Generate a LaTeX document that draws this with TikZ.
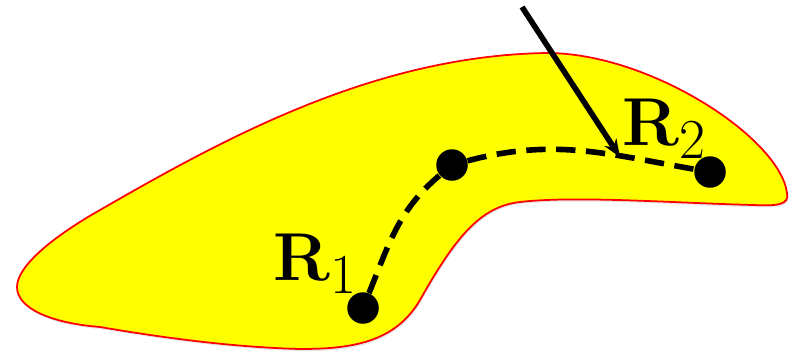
\documentclass[tikz,border=0pt]{standalone}
\usetikzlibrary{arrows.meta,shadows}
\definecolor{blobyellow}{RGB}{255,255,0}
\definecolor{blobred}{RGB}{255,0,0}
\begin{document}
\begin{tikzpicture}[
    blackdot/.style={circle, fill=black, minimum size=0.63cm, inner sep=0pt},
    biglabel/.style={font=\Huge, scale=1.55, inner sep=0pt, anchor=base west}]
    \useasboundingbox (0,0) rectangle (15.84,7.06);

    % --- yellow region ---
    \draw[blobred, line width=1pt, fill=blobyellow,
          drop shadow={opacity=0.2, shadow xshift=0.6pt, shadow yshift=-1.2pt}]
      (0.34,1.32) .. controls (0.34,1.75) and (1.10,2.35) .. (2.00,2.86)
      .. controls (4.50,4.30) and (7.50,5.95) .. (10.94,6.00)
      .. controls (13.00,6.00) and (15.60,4.30) .. (15.74,3.20)
      .. controls (15.80,2.95) and (15.50,2.94) .. (15.06,2.96)
      .. controls (13.50,3.00) and (11.50,3.15) .. (10.40,3.02)
      .. controls (9.60,2.93) and (9.10,2.30) .. (8.40,1.06)
      .. controls (7.90,0.20) and (7.00,0.08) .. (6.00,0.08)
      .. controls (4.50,0.12) and (3.00,0.35) .. (2.00,0.52)
      .. controls (1.00,0.60) and (0.34,0.90) .. (0.34,1.32) -- cycle;

    % --- points ---
    \node[blackdot] (r1) at (7.26,0.90) {};
    \node[blackdot] (mid) at (9.04,3.76) {};
    \node[blackdot] (r2) at (14.20,3.62) {};

    % --- dashed path ---
    \draw[line width=3.2pt, dash pattern=on 11pt off 6pt]
      (r1) to[out=68, in=-140] (mid) to[out=15, in=170] (r2);

    % --- arrow ---
    \coordinate (tail) at (10.44,6.92);
    \coordinate (hit) at (12.40,3.92);
    \draw[line width=3.2pt, -{Stealth[length=10pt, width=8pt]}] (tail) -- (hit);

    % --- labels ---
    \node[biglabel] (lab1) at (5.46,1.46) {$\mathbf{R}_1$};
    \node[biglabel] (lab2) at (12.44,4.16) {$\mathbf{R}_2$};
\end{tikzpicture}
\end{document}
